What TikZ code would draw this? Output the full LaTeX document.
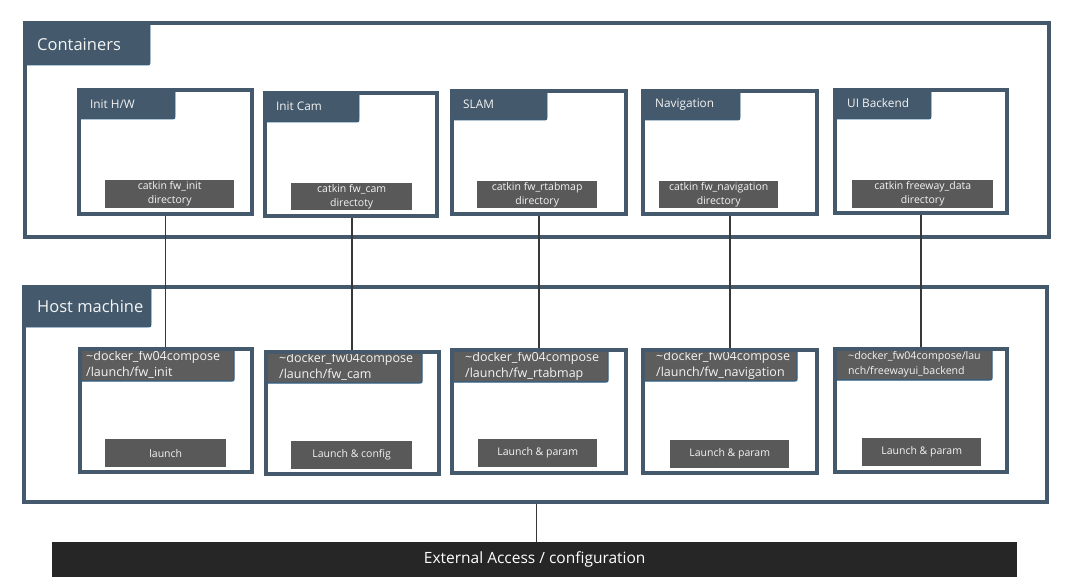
\documentclass[tikz,border=0pt]{standalone}
\usepackage{fontspec}
\setmainfont{Open Sans}
\definecolor{slate}{HTML}{44596B}
\definecolor{tabedge}{HTML}{2F5F84}
\definecolor{greybox}{HTML}{595959}
\definecolor{dockgrey}{HTML}{5D5D5D}
\definecolor{wirec}{HTML}{383838}
\definecolor{barc}{HTML}{262626}
\definecolor{txtw}{HTML}{F4F4F4}

% frame box: name, x1, y1, x2, y2
\newcommand\frameat[5]{%
  \node[frame, minimum width={#4-#2}, minimum height={#5-#3}] (#1) at (#2,#3) {};}
% tab with a rounded lower-right corner: x1, y1, x2, y2, style
\newcommand\tabshape[5]{%
  \path[#5] (#1,#2) -- (#3,#2) -- (#3,#4-3.5) .. controls (#3,#4) .. (#3-3.5,#4) -- (#1,#4) -- cycle;}
% filled label box: name, x1, y1, x2, y2, style, text
\newcommand\labelbox[7]{%
  \node[#6, minimum width={#4-#2}, minimum height={#5-#3}] (#1) at (#2,#3) {#7};}

\begin{document}
\begin{tikzpicture}[x=1pt,y=-1pt,
  frame/.style={draw=slate, line width=4pt, inner sep=0pt, anchor=north west},
  tabfill/.style={fill=slate, draw=tabedge, line width=0.7pt},
  docktab/.style={fill=dockgrey, draw=tabedge, line width=1.1pt},
  greyfill/.style={fill=greybox, inner sep=0pt, anchor=north west, text=txtw,
    font=\fontsize{10.5}{14}\selectfont, align=center},
  biglabel/.style={anchor=west, text=txtw, inner sep=0pt, font=\fontsize{16.5}{19}\selectfont},
  tablabel/.style={anchor=west, text=txtw, inner sep=0pt, font=\fontsize{11.8}{13}\selectfont},
  docklabel/.style={anchor=west, text=txtw, inner sep=0pt, align=left,
    font=\fontsize{12.5}{16}\selectfont},
  wire/.style={draw=wirec, line width=1.5pt}]

\useasboundingbox (0,0) rectangle (1068,580);
\fill[white] (0,0) rectangle (1068,580);

% ---- Containers ----
\tabshape{25}{23}{150}{65}{tabfill}
\node[biglabel] (contlbl) at (37,45) {Containers};

\tabshape{79}{90}{175}{119}{tabfill}
\tabshape{265}{93}{359}{122}{tabfill}
\tabshape{452}{91}{547}{120}{tabfill}
\tabshape{643}{91}{740}{120}{tabfill}
\tabshape{835}{90}{931}{119}{tabfill}
\node[tablabel] (t1) at (90,104.5) {Init H/W};
\node[tablabel] (t2) at (276,106) {Init Cam};
\node[tablabel] (t3) at (463,104.5) {SLAM};
\node[tablabel] (t4) at (655,104.5) {Navigation};
\node[tablabel] (t5) at (847,103.5) {UI Backend};

\labelbox{g1}{105}{180}{234}{208}{greyfill}{catkin fw\_init\\directory}
\labelbox{g2}{291}{183}{412}{210}{greyfill}{catkin fw\_cam\\directoty}
\labelbox{g3}{477}{181}{597}{208}{greyfill}{catkin fw\_rtabmap\\directory}
\labelbox{g4}{659}{181}{778}{208}{greyfill}{catkin fw\_navigation\\directory}
\labelbox{g5}{852}{180}{993}{208}{greyfill}{catkin freeway\_data\\directory}

\frameat{cont}{23}{21}{1047}{235}
\frameat{c1}{77}{88}{250}{212}
\frameat{c2}{263}{91}{435}{214}
\frameat{c3}{450}{89}{624}{212}
\frameat{c4}{641}{89}{815}{212}
\frameat{c5}{833}{88}{1005}{211}

% ---- Host machine ----
\tabshape{24}{287}{151}{327}{tabfill}
\node[biglabel] (hostlbl) at (37,306) {Host machine};

\tabshape{80}{349}{234}{381}{docktab}
\tabshape{266}{352}{422}{383}{docktab}
\tabshape{452}{350}{608}{382}{docktab}
\tabshape{643}{350}{797}{381}{docktab}
\tabshape{835}{349}{992}{380}{docktab}
\node[docklabel] (d1) at (86,365) {\textasciitilde docker\_fw04compose\\/launch/fw\_init};
\node[docklabel] (d2) at (279,367) {\textasciitilde docker\_fw04compose\\/launch/fw\_cam};
\node[docklabel] (d3) at (465,366) {\textasciitilde docker\_fw04compose\\/launch/fw\_rtabmap};
\node[docklabel] (d4) at (656,365.5) {\textasciitilde docker\_fw04compose\\/launch/fw\_navigation};
\node[docklabel, font=\fontsize{10.6}{15}\selectfont] (d5) at (848,364.5)
  {\textasciitilde docker\_fw04compose/lau\\nch/freewayui\_backend};

\labelbox{l1}{105}{439}{226}{467}{greyfill}{launch}
\labelbox{l2}{291}{441}{412}{469}{greyfill}{Launch \& config}
\labelbox{l3}{478}{439}{597}{467}{greyfill}{Launch \& param}
\labelbox{l4}{670}{440}{789}{468}{greyfill}{Launch \& param}
\labelbox{l5}{862}{438}{981}{466}{greyfill}{Launch \& param}

\frameat{host}{22}{285}{1045}{500}
\frameat{h1}{78}{347}{250}{470}
\frameat{h2}{264}{350}{437}{472}
\frameat{h3}{450}{348}{624}{471}
\frameat{h4}{641}{348}{815}{471}
\frameat{h5}{833}{347}{1005}{470}

% ---- External access bar ----
\node[fill=barc, text=white, inner sep=0pt, anchor=north west,
  minimum width=965, minimum height=35, font=\fontsize{15.5}{17}\selectfont]
  (ext) at (52,542) {External Access / configuration};

% ---- connectors ----
\draw[wire] (c1.south) -- (c1.south |- h1.north);
\draw[wire] ([xshift=1pt]c2.south) -- ([xshift=1pt]c2.south |- h2.north);
\draw[wire] (c3.south) -- (c3.south |- h3.north);
\draw[wire] (c4.south) -- (c4.south |- h4.north);
\draw[wire] (c5.south) -- (c5.south |- h5.north);
\draw[wire] ([xshift=1pt]host.south) -- ([xshift=1pt]host.south |- ext.north);
\end{tikzpicture}
\end{document}
